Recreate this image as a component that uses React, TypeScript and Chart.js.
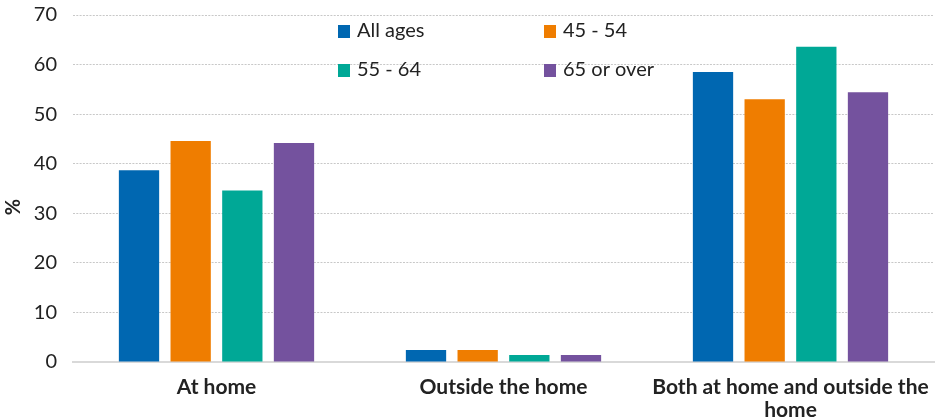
import React, { useEffect, useRef } from "react";
import { Chart, registerables } from "chart.js";

Chart.register(...registerables);

const categories: (string | string[])[] = ["At home", "Outside the home", ["Both at home and outside the", "home"]];
const seriesLabels = ["All ages", "45 - 54", "55 - 64", "65 or over"];
const seriesColors = ["#0067b1", "#ef7d00", "#00a896", "#74529e"];
const allAges = [38.7, 2.4, 58.5];
const age45to54 = [44.6, 2.4, 53.0];
const age55to64 = [34.6, 1.4, 63.6];
const age65plus = [44.2, 1.4, 54.4];
const yTicks = [0, 10, 20, 30, 40, 50, 60, 70];
const yTitle = "%";

const FONT = "Lato, 'Open Sans', sans-serif";

const gridLegend = {
  id: "gridLegend",
  afterDraw(chart: any) {
    const ctx = chart.ctx;
    const positions = [
      [338, 31],
      [544, 31],
      [338, 70],
      [544, 70],
    ];
    ctx.save();
    ctx.font = `20px ${FONT}`;
    ctx.textBaseline = "middle";
    ctx.textAlign = "left";
    chart.data.datasets.forEach((ds: any, i: number) => {
      const [x, y] = positions[i];
      ctx.fillStyle = ds.backgroundColor;
      ctx.fillRect(x, y - 6, 12, 13);
      ctx.fillStyle = "#222";
      ctx.fillText(ds.label, x + 19, y);
    });
    ctx.restore();
  },
};

const yTitlePlugin = {
  id: "yTitlePlugin",
  afterDraw(chart: any) {
    const ctx = chart.ctx;
    ctx.save();
    ctx.translate(14, 207);
    ctx.rotate(-Math.PI / 2);
    ctx.font = `bold 20px ${FONT}`;
    ctx.textAlign = "center";
    ctx.textBaseline = "middle";
    ctx.fillStyle = "#222";
    ctx.fillText(yTitle, 0, 0);
    ctx.restore();
  },
};

export default function App() {
  const ref = useRef<HTMLCanvasElement | null>(null);
  useEffect(() => {
    if (!ref.current) return;
    const series = [allAges, age45to54, age55to64, age65plus];
    const chart = new Chart(ref.current, {
      type: "bar",
      data: {
        labels: categories as any,
        datasets: series.map((d, i) => ({
          label: seriesLabels[i],
          data: d,
          backgroundColor: seriesColors[i],
          borderWidth: 0,
          categoryPercentage: 0.72,
          barPercentage: 0.78,
        })),
      },
      options: {
        animation: false,
        responsive: false,
        maintainAspectRatio: false,
        layout: { padding: { top: 15, right: 12, left: 0, bottom: 0 } },
        plugins: {
          legend: { display: false },
          tooltip: { enabled: false },
        },
        scales: {
          x: {
            grid: { display: false },
            border: { display: true, color: "#d9d9d9", width: 2 },
            afterFit: (axis: any) => {
              axis.height = 58;
            },
            ticks: {
              color: "#222",
              font: { family: FONT, size: 21, weight: "bold", lineHeight: 1.1 },
              maxRotation: 0,
              autoSkip: false,
              padding: 6,
            },
          },
          y: {
            min: 0,
            max: 70,
            afterBuildTicks: (axis: any) => {
              axis.ticks = yTicks.map((v) => ({ value: v }));
            },
            afterFit: (axis: any) => {
              axis.width = 73;
              axis.paddingTop = 0;
              axis.paddingBottom = 0;
            },
            grid: { color: "#c8c8c8", lineWidth: 1, drawTicks: false },
            border: { display: false, dash: [2, 1.3] },
            ticks: {
              color: "#222",
              font: { family: FONT, size: 20 },
              padding: 16,
            },
            title: { display: false },
          },
        },
      },
      plugins: [gridLegend, yTitlePlugin],
    });
    return () => chart.destroy();
  }, []);
  return (
    <div style={{ position: "fixed", left: 0, top: 0, width: 946, height: 420, background: "#fff" }}>
      <canvas ref={ref} width={946} height={420} style={{ width: 946, height: 420 }} />
    </div>
  );
}
